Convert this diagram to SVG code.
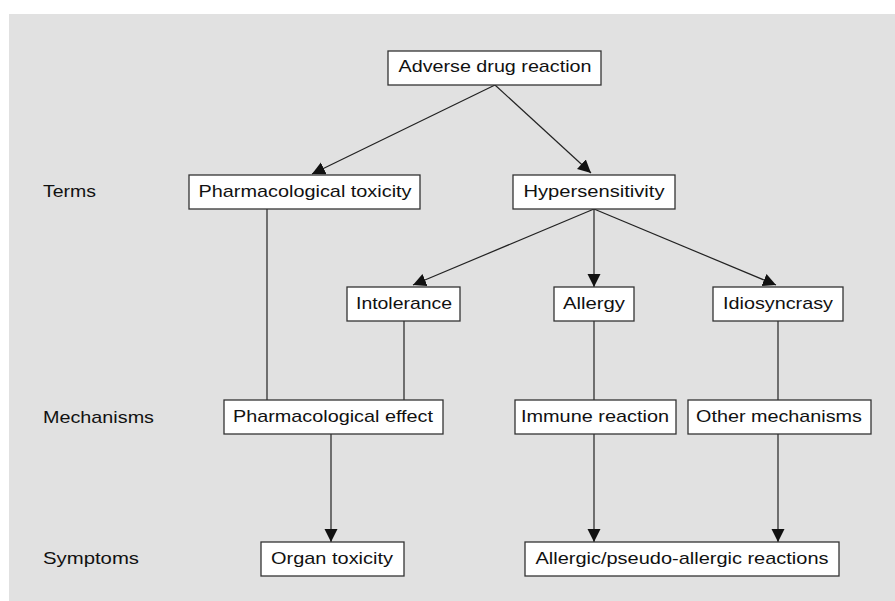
<svg xmlns="http://www.w3.org/2000/svg" width="895" height="601" viewBox="0 0 895 601">
<style>
.box{fill:#ffffff;stroke:#333333;stroke-width:1.3}
.t{font-family:"Liberation Sans",Arial,sans-serif;font-size:17px;fill:#111111;text-anchor:middle}
.lbl{font-family:"Liberation Sans",Arial,sans-serif;font-size:17px;fill:#111111}
.c{stroke:#222222;stroke-width:1.2;fill:none}
.a{marker-end:url(#arr)}
</style>
<defs>
<marker id="arr" markerUnits="userSpaceOnUse" markerWidth="14" markerHeight="14" refX="13" refY="6.5" orient="auto">
<path d="M0,0 L13,6.5 L0,13 z" fill="#111111"/>
</marker>
</defs>
<rect x="0" y="0" width="895" height="601" fill="#ffffff"/>
<rect x="9" y="14" width="886" height="587" fill="#e1e1e1"/>
<g id="row-labels">
<text class="lbl" x="43" y="197" textLength="53" lengthAdjust="spacingAndGlyphs">Terms</text>
<text class="lbl" x="43" y="423" textLength="111" lengthAdjust="spacingAndGlyphs">Mechanisms</text>
<text class="lbl" x="43" y="563.5" textLength="96" lengthAdjust="spacingAndGlyphs">Symptoms</text>
</g>
<g id="connectors">
<line class="c a" x1="495" y1="85" x2="312" y2="174"/>
<line class="c a" x1="495" y1="85" x2="591" y2="173"/>
<line class="c" x1="267" y1="209" x2="267" y2="400"/>
<line class="c a" x1="594" y1="209" x2="413" y2="285"/>
<line class="c a" x1="594" y1="209" x2="594" y2="287"/>
<line class="c a" x1="594" y1="209" x2="776" y2="285"/>
<line class="c" x1="404" y1="321" x2="404" y2="400"/>
<line class="c" x1="594" y1="321" x2="594" y2="400"/>
<line class="c" x1="778" y1="321" x2="778" y2="400"/>
<line class="c a" x1="331" y1="434" x2="331" y2="542"/>
<line class="c a" x1="594" y1="434" x2="594" y2="542"/>
<line class="c a" x1="778" y1="434" x2="778" y2="542"/>
</g>
<g id="adverse">
<rect class="box" x="388" y="51" width="213" height="34"/>
<text class="t" x="495" y="72.3" textLength="193" lengthAdjust="spacingAndGlyphs">Adverse drug reaction</text>
</g>
<g id="pharm-toxicity">
<rect class="box" x="189" y="175" width="231" height="34"/>
<text class="t" x="305" y="196.5" textLength="213" lengthAdjust="spacingAndGlyphs">Pharmacological toxicity</text>
</g>
<g id="hypersensitivity">
<rect class="box" x="513" y="175" width="162" height="34"/>
<text class="t" x="594" y="196.5" textLength="141" lengthAdjust="spacingAndGlyphs">Hypersensitivity</text>
</g>
<g id="intolerance">
<rect class="box" x="347" y="287" width="113" height="34"/>
<text class="t" x="404" y="308.5" textLength="96" lengthAdjust="spacingAndGlyphs">Intolerance</text>
</g>
<g id="allergy">
<rect class="box" x="554" y="287" width="80" height="34"/>
<text class="t" x="594" y="308.5" textLength="62" lengthAdjust="spacingAndGlyphs">Allergy</text>
</g>
<g id="idiosyncrasy">
<rect class="box" x="713" y="287" width="130" height="34"/>
<text class="t" x="778" y="308.5" textLength="110" lengthAdjust="spacingAndGlyphs">Idiosyncrasy</text>
</g>
<g id="pharm-effect">
<rect class="box" x="224" y="400" width="219" height="34"/>
<text class="t" x="333" y="421.5" textLength="200" lengthAdjust="spacingAndGlyphs">Pharmacological effect</text>
</g>
<g id="immune">
<rect class="box" x="515" y="400" width="161" height="34"/>
<text class="t" x="595" y="421.5" textLength="148" lengthAdjust="spacingAndGlyphs">Immune reaction</text>
</g>
<g id="other">
<rect class="box" x="688" y="400" width="183" height="34"/>
<text class="t" x="779" y="421.5" textLength="166" lengthAdjust="spacingAndGlyphs">Other mechanisms</text>
</g>
<g id="organ">
<rect class="box" x="261" y="542" width="143" height="34"/>
<text class="t" x="332" y="563.5" textLength="122" lengthAdjust="spacingAndGlyphs">Organ toxicity</text>
</g>
<g id="allergic">
<rect class="box" x="525" y="542" width="314" height="34"/>
<text class="t" x="682" y="563.5" textLength="293" lengthAdjust="spacingAndGlyphs">Allergic/pseudo-allergic reactions</text>
</g>
</svg>
